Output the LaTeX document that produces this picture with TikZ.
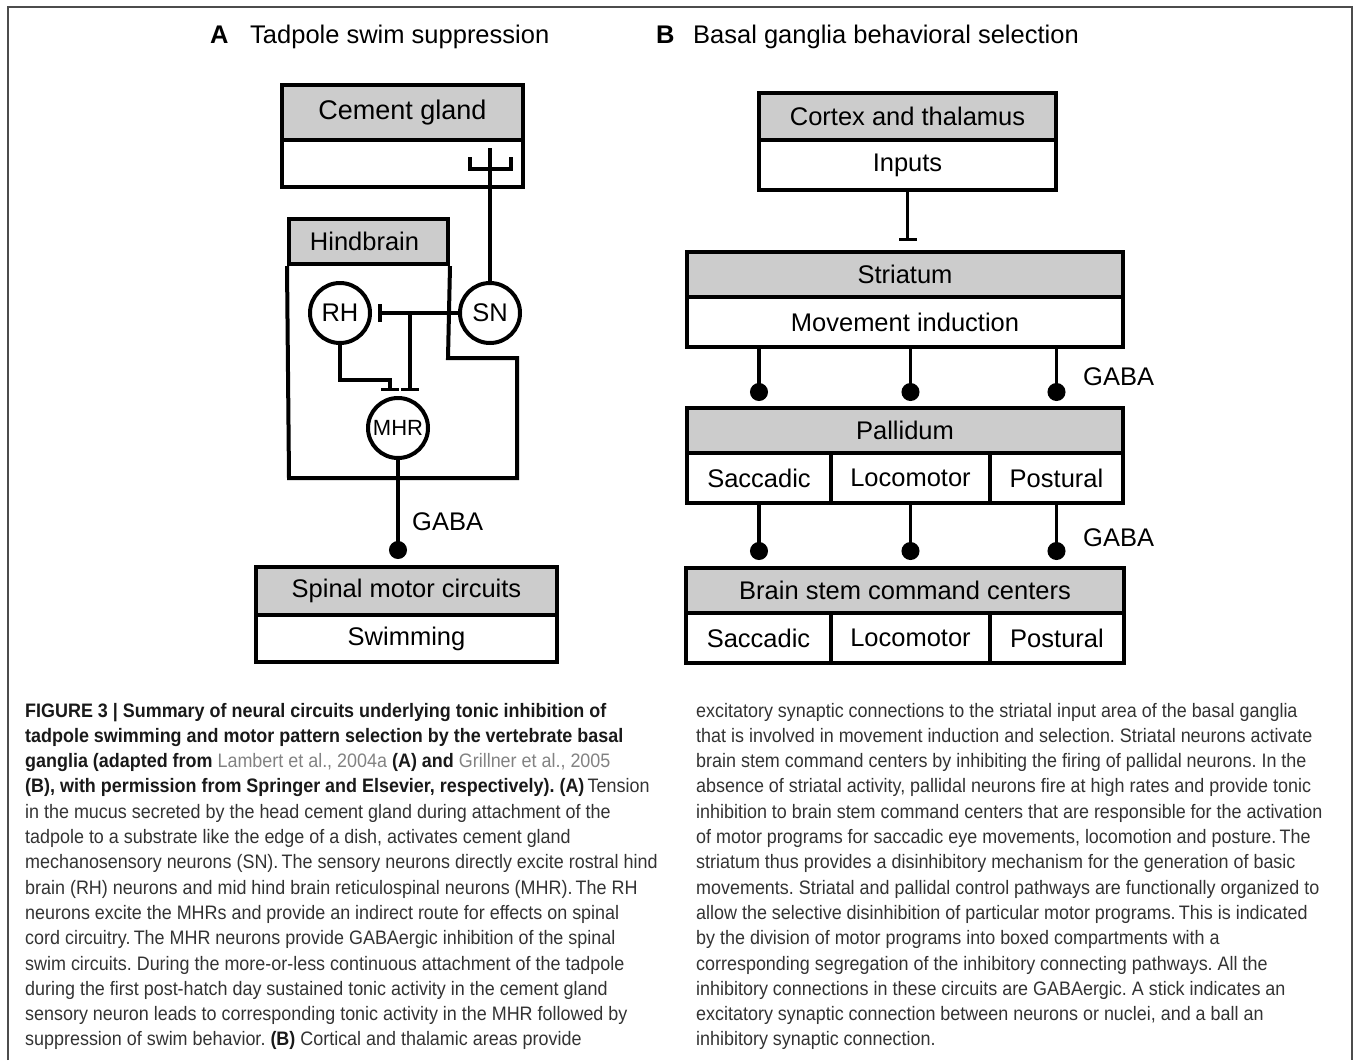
\documentclass[tikz,border=0pt]{standalone}
\usepackage{fontspec}
\setmainfont{Liberation Sans}
\newfontfamily\capfont[FakeStretch=0.92]{Liberation Sans}
\usetikzlibrary{arrows.meta}
\definecolor{hdrgray}{HTML}{CCCCCC}
\definecolor{captext}{HTML}{333333}
\definecolor{refgray}{HTML}{828282}
\newcommand{\capref}[1]{\textcolor{refgray}{\mdseries #1}}
\begin{document}
\begin{tikzpicture}[x=1pt,y=-1pt,
  lbl/.style={font=\fontsize{25.5}{30}\selectfont},
  hdr/.style={draw,line width=4pt,fill=hdrgray,inner sep=0pt,lbl},
  body/.style={draw,line width=4pt,fill=white,inner sep=0pt,lbl},
  cell/.style={draw,line width=4pt,circle,fill=white,inner sep=0pt,minimum size=60pt,lbl},
  wire/.style={line width=3.5pt},
  excit/.style={wire,-{Bar[width=18pt]},shorten >=6pt},
  inhib/.style={wire,-{Circle[length=18pt]},shorten >=6pt},
  captxt/.style={anchor=base west,inner sep=0pt,text=captext,font=\capfont\fontsize{19.5}{25.3}\selectfont}]
\useasboundingbox (0,0) rectangle (1354,1060);
\draw[line width=1.3pt,black!70] (8,1060) -- (8,7) -- (1352,7) -- (1352,1060);
\node[lbl,anchor=base west,inner sep=0pt] (tA) at (210,43) {\textbf{A}};
\node[lbl,anchor=base west,inner sep=0pt] (ttA) at (250,43) {Tadpole swim suppression};
\node[lbl,anchor=base west,inner sep=0pt] (tB) at (656,43) {\textbf{B}};
\node[lbl,anchor=base west,inner sep=0pt] (ttB) at (693,43) {Basal ganglia behavioral selection};
\begin{scope}
\node[hdr,minimum width=241pt,minimum height=55pt,font=\fontsize{27}{32}\selectfont] (cgH) at (402.5,112.5) {Cement gland};
\node[body,minimum width=241pt,minimum height=47pt] (cgB) at (402.5,163.5) {};
\node[hdr,minimum width=159pt,minimum height=45pt] (hbH) at (368.5,241.5) {\hspace*{-8pt}Hindbrain};
\draw[line width=4pt] (hbH.south west) -- (289,478) -- (517,478) -- (517,358) -- (448,358) -- (hbH.south east);
\node[cell] (RH) at (340,313) {RH};
\node[cell] (SN) at (490,313) {SN};
\node[cell,font=\fontsize{22}{26}\selectfont] (MHR) at (398,428) {MHR};
\coordinate (snend) at (490,148);
\draw[wire] (SN.north) -- (snend);
\draw[wire] (470,157) |- (511,169) -- (511,157);
\coordinate (j1) at (410,313);
\coordinate (rhk) at (390,380);
\draw[excit] (SN.west) -- (RH.east);
\draw[excit,shorten >=5pt] (j1) -- (j1 |- MHR.north);
\draw[excit,shorten >=5pt] (RH.south) |- (rhk) -- (rhk |- MHR.north);
\node[hdr,minimum width=301pt,minimum height=48pt] (spH) at (406.5,591) {Spinal motor circuits};
\node[body,minimum width=301pt,minimum height=47pt] (spB) at (406.5,638.5) {Swimming};
\draw[inhib] (MHR.south) -- (MHR.south |- spH.north);
\node[lbl,anchor=west,inner sep=0pt] (gabaA) at (412,522) {GABA};
\end{scope}
\begin{scope}
\node[hdr,minimum width=297pt,minimum height=47pt] (ctH) at (907.5,116.5) {Cortex and thalamus};
\node[body,minimum width=297pt,minimum height=50pt] (ctB) at (907.5,165) {Inputs};
\node[hdr,minimum width=436pt,minimum height=45pt] (stH) at (905,274.5) {Striatum};
\node[body,minimum width=436pt,minimum height=50pt] (stB) at (905,322) {Movement induction};
\node[hdr,minimum width=436pt,minimum height=45pt] (paH) at (905,430.5) {Pallidum};
\node[body,minimum width=144pt,minimum height=50pt] (paSac) at (759,478) {Saccadic};
\node[body,minimum width=159pt,minimum height=50pt] (paLoc) at (910.5,478) {Locomotor};
\node[body,minimum width=133pt,minimum height=50pt] (paPos) at (1056.5,478) {Postural};
\node[hdr,minimum width=438pt,minimum height=45pt] (bsH) at (905,590.5) {Brain stem command centers};
\node[body,minimum width=145pt,minimum height=50pt] (bsSac) at (758.5,638) {Saccadic};
\node[body,minimum width=159pt,minimum height=50pt] (bsLoc) at (910.5,638) {Locomotor};
\node[body,minimum width=134pt,minimum height=50pt] (bsPos) at (1057,638) {Postural};
\draw[excit,shorten >=9pt] (ctB.south) -- (ctB.south |- stH.north);
\foreach \s in {Sac,Loc,Pos}{
  \draw[inhib,shorten >=5pt] (pa\s.north |- stB.south) -- (pa\s.north |- paH.north);
  \draw[inhib] (pa\s.south) -- (pa\s.south |- bsH.north);
}
\node[lbl,anchor=west,inner sep=0pt] (gabaB1) at (1083,377) {GABA};
\node[lbl,anchor=west,inner sep=0pt] (gabaB2) at (1083,538) {GABA};
\end{scope}
\node[captxt] (capA) at (25,717) {\parbox[t]{800pt}{\frenchspacing\raggedright
\textbf{\color{black!90}FIGURE 3 | Summary of neural circuits underlying tonic inhibition of}\\
\textbf{\color{black!90}tadpole swimming and motor pattern selection by the vertebrate basal}\\
\textbf{\color{black!90}ganglia (adapted from \capref{Lambert et al., 2004a} (A) and \capref{Grillner et al., 2005}}\\
\textbf{\color{black!90}(B), with permission from Springer and Elsevier, respectively). (A)}\,Tension\\
in the mucus secreted by the head cement gland during attachment of the\\
tadpole to a substrate like the edge of a dish, activates cement gland\\
mechanosensory neurons (SN).\,The sensory neurons directly excite rostral hind\\
brain (RH) neurons and mid hind brain reticulospinal neurons (MHR).\,The RH\\
neurons excite the MHRs and provide an indirect route for effects on spinal\\
cord circuitry.\,The MHR neurons provide GABAergic inhibition of the spinal\\
swim circuits. During the more-or-less continuous attachment of the tadpole\\
during the first post-hatch day sustained tonic activity in the cement gland\\
sensory neuron leads to corresponding tonic activity in the MHR followed by\\
suppression of swim behavior. \textbf{\color{black!90}(B)} Cortical and thalamic areas provide}};
\node[captxt] (capB) at (696,717) {\parbox[t]{800pt}{\frenchspacing\raggedright
excitatory synaptic connections to the striatal input area of the basal ganglia\\
that is involved in movement induction and selection. Striatal neurons activate\\
brain stem command centers by inhibiting the firing of pallidal neurons. In the\\
absence of striatal activity, pallidal neurons fire at high rates and provide tonic\\
inhibition to brain stem command centers that are responsible for the activation\\
of motor programs for saccadic eye movements, locomotion and posture.\,The\\
striatum thus provides a disinhibitory mechanism for the generation of basic\\
movements. Striatal and pallidal control pathways are functionally organized to\\
allow the selective disinhibition of particular motor programs.\,This is indicated\\
by the division of motor programs into boxed compartments with a\\
corresponding segregation of the inhibitory connecting pathways. All the\\
inhibitory connections in these circuits are GABAergic. A stick indicates an\\
excitatory synaptic connection between neurons or nuclei, and a ball an\\
inhibitory synaptic connection.}};
\end{tikzpicture}
\end{document}
